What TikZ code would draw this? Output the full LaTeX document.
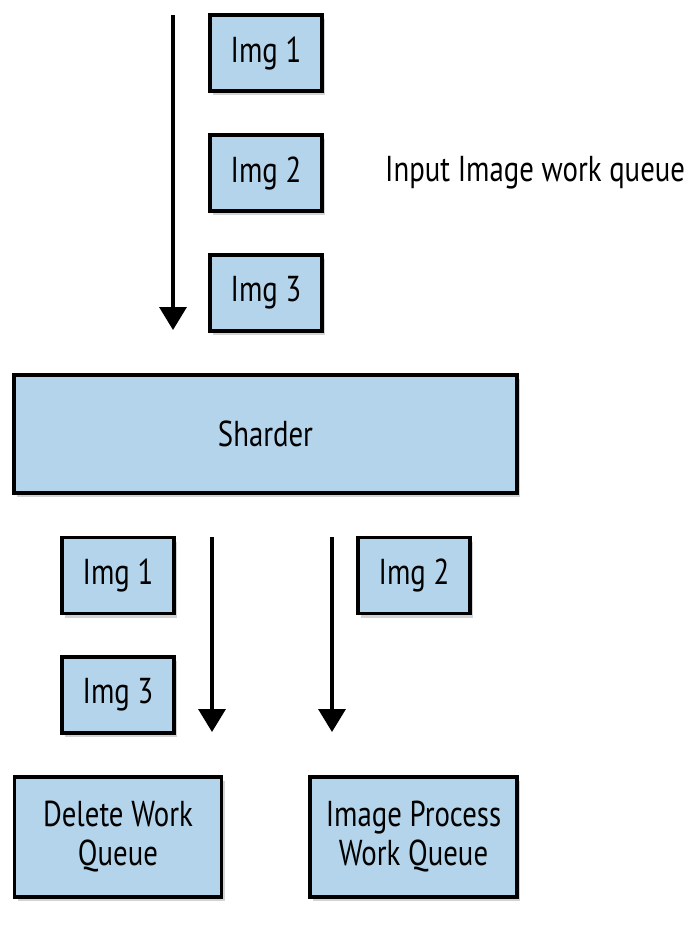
\documentclass[tikz,border=0pt]{standalone}
\usepackage{fontspec}
\setmainfont{PT Sans}[FakeStretch=0.8]
\usepackage{tikz}
\usetikzlibrary{arrows.meta, shadows}

\definecolor{qblue}{HTML}{B3D4EA}

\tikzset{
  imgbox/.style={draw, line width=3.5pt, fill=qblue, minimum width=112pt, minimum height=76pt,
    drop shadow={opacity=0.35, shadow xshift=3pt, shadow yshift=-4pt}, font=\fontsize{36}{38}\selectfont},
  queuebox/.style={imgbox, minimum width=207pt, minimum height=120pt, align=center,
    font=\fontsize{36}{39}\selectfont},
  flow/.style={-{Triangle[length=23pt, width=27pt]}, line width=3.5pt}
}

\begin{document}
\begin{tikzpicture}[x=1pt, y=-1pt]
\useasboundingbox (0,0) rectangle (691,926);

% input queue
\node[imgbox] at (266,53) (in1) {Img 1};
\node[imgbox] at (266,173) (in2) {Img 2};
\node[imgbox] at (266,293) (in3) {Img 3};
\node[anchor=west, inner sep=0pt, font=\fontsize{36}{38}\selectfont] at (385,173) (inlabel) {Input Image work queue};
\coordinate (inTop) at (173,15);
\coordinate (inEnd) at (173,330);
\draw[flow] (inTop) -- (inEnd);

% sharder
\node[imgbox, minimum width=503pt, minimum height=118pt] at (265.5,434) (sharder) {Sharder};

% output queues
\node[imgbox] at (118,575.5) (del1) {Img 1};
\node[imgbox] at (118,695) (del3) {Img 3};
\node[imgbox] at (414,575.5) (proc2) {Img 2};
\coordinate (delTop) at (212,537);
\coordinate (delEnd) at (212,732);
\coordinate (procTop) at (332,537);
\coordinate (procEnd) at (332,732);
\draw[flow] (delTop) -- (delEnd);
\draw[flow] (procTop) -- (procEnd);

\node[queuebox] at (118,837) (delq) {Delete Work\\Queue};
\node[queuebox] at (413.5,837) (procq) {Image Process\\Work Queue};
\end{tikzpicture}
\end{document}
